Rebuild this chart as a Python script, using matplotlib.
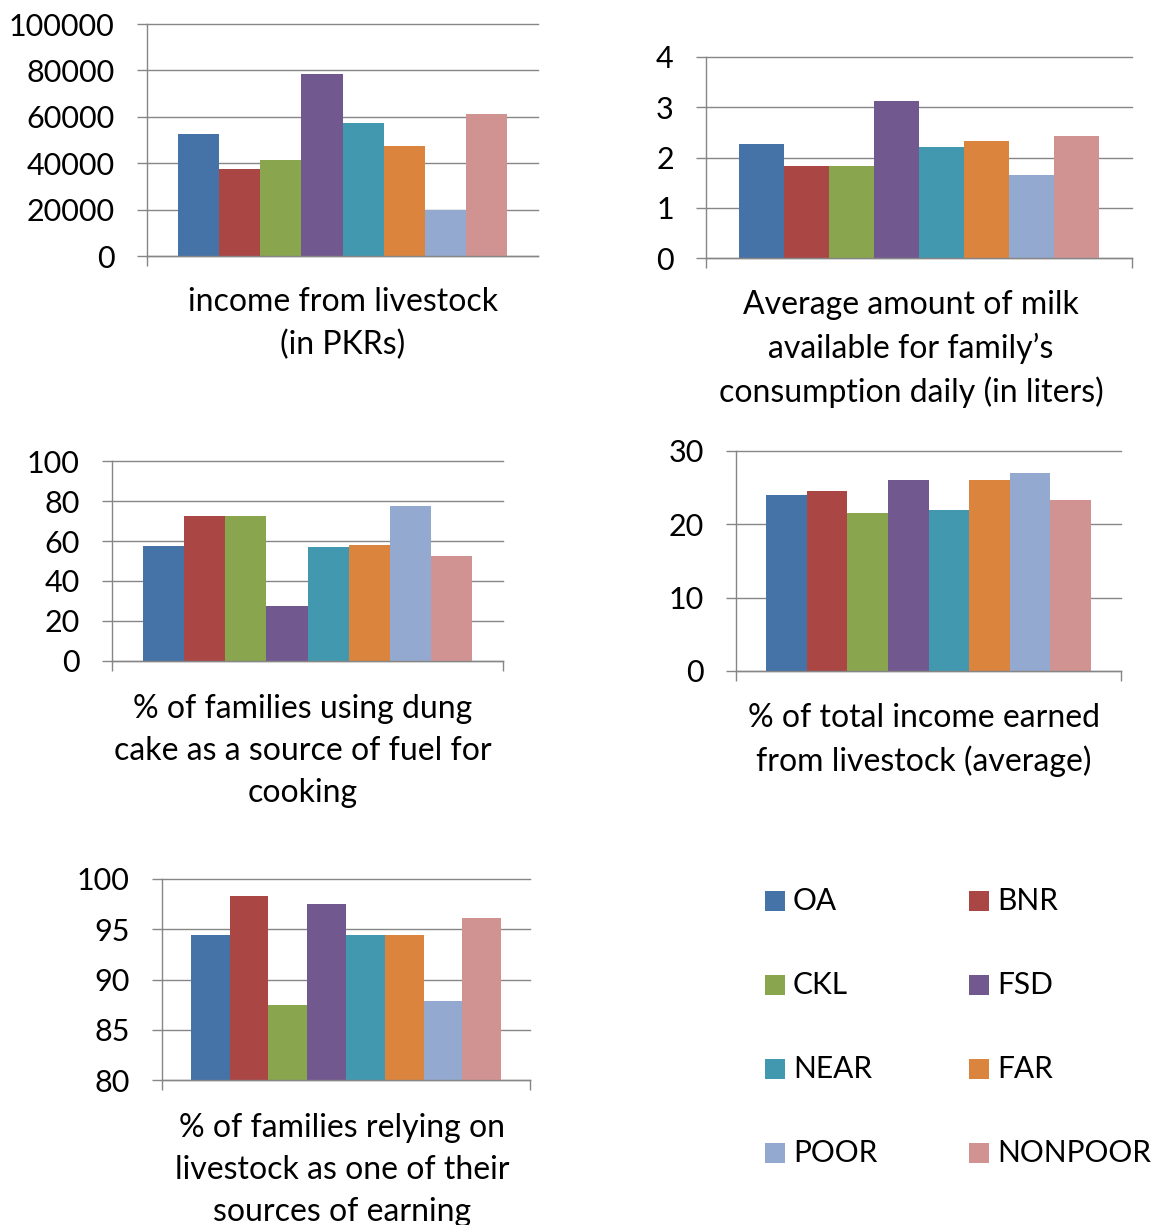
import numpy as np
import matplotlib
matplotlib.use('Agg')
import matplotlib.pyplot as plt
from matplotlib.patches import Rectangle

plt.rcParams['font.family'] = ['Lato', 'DejaVu Sans']

# groups and colours (Excel 2007 palette)
groups = ['OA', 'BNR', 'CKL', 'FSD', 'NEAR', 'FAR', 'POOR', 'NONPOOR']
colors = ['#4572A7', '#AA4643', '#89A54E', '#71588F',
          '#4198AF', '#DB843D', '#93A9CF', '#D19392']

# values
income = [52500, 37500, 41300, 78300, 57200, 47300, 19800, 61100]
milk = [2.26, 1.83, 1.83, 3.13, 2.20, 2.33, 1.65, 2.42]
dung = [57.4, 72.5, 72.7, 27.3, 56.9, 57.9, 77.4, 52.4]
share = [24.0, 24.5, 21.6, 26.0, 22.0, 26.0, 27.0, 23.3]
relying = [94.4, 98.3, 87.5, 97.5, 94.4, 94.4, 87.9, 96.1]

titles = ['income from livestock\n(in PKRs)',
          'Average amount of milk\navailable for family\u2019s\nconsumption daily (in liters)',
          '% of families using dung\ncake as a source of fuel for\ncooking',
          '% of total income earned\nfrom livestock (average)',
          '% of families relying on\nlivestock as one of their\nsources of earning']

W, H = 1151, 1225
fig = plt.figure(figsize=(W / 100, H / 100), dpi=100)

def px_box(l, r, t, b):
    return [l / W, 1 - b / H, (r - l) / W, (b - t) / H]

# (data, ylim, yticks, axes box in px, title centre x, title top y, right tick)
charts = [
    (income, (0, 100000), np.arange(0, 100001, 20000), (147, 538, 24, 256), 343, 287, False),
    (milk, (0, 4), np.arange(0, 5, 1), (706, 1132, 57, 258), 911, 290, True),
    (dung, (0, 100), np.arange(0, 101, 20), (112, 503, 461, 661), 303, 694, True),
    (share, (0, 30), np.arange(0, 31, 10), (736, 1121, 451, 671), 924, 703, True),
    (relying, (80, 100), np.arange(80, 101, 5), (162, 530, 879, 1080), 342, 1113, True),
]

grid_col = '#868686'
n = len(groups)
group_frac = 0.843
w = group_frac / n
xs = -group_frac / 2 + w / 2 + w * np.arange(n)

for (vals, ylim, yt, box, tx, ty, rtick), title in zip(charts, titles):
    ax = fig.add_axes(px_box(*box))
    ax.bar(xs, vals, width=w, color=colors, edgecolor='none')
    ax.set_xlim(-0.5, 0.5)
    ax.set_ylim(*ylim)
    ax.set_yticks(yt)
    ax.set_yticklabels([str(v) for v in yt])
    ax.set_xticks([-0.5, 0.5] if rtick else [-0.5])
    ax.set_xticklabels([])
    ax.yaxis.grid(True, color=grid_col, linewidth=1.0)
    ax.set_axisbelow(True)
    for s in ['top', 'right']:
        ax.spines[s].set_visible(False)
    for s in ['left', 'bottom']:
        ax.spines[s].set_color(grid_col)
        ax.spines[s].set_linewidth(1.0)
    ax.tick_params(axis='y', length=7.2, width=1.0, color=grid_col,
                   labelsize=22, pad=16, labelcolor='black')
    ax.tick_params(axis='x', length=7.2, width=1.0, color=grid_col, direction='out')
    for gl in ax.get_ygridlines():
        gl.set_clip_on(False)
    fig.text(tx / W, 1 - ty / H, title, ha='center', va='top', ma='center',
             fontsize=23, linespacing=1.5)

# legend drawn by hand, two columns of four
col_x = [765, 969]
row_y = [901, 985, 1069, 1153]
sq = 20
for i, (g, c) in enumerate(zip(groups, colors)):
    cx = col_x[i % 2]
    cy = row_y[i // 2]
    fig.add_artist(Rectangle((cx / W, 1 - (cy + sq / 2) / H), sq / W, sq / H,
                             transform=fig.transFigure, facecolor=c, edgecolor='none'))
    fig.text((cx + sq + 8) / W, 1 - cy / H, g, ha='left', va='center', fontsize=21.5)

fig.savefig('out.png', dpi=100)
